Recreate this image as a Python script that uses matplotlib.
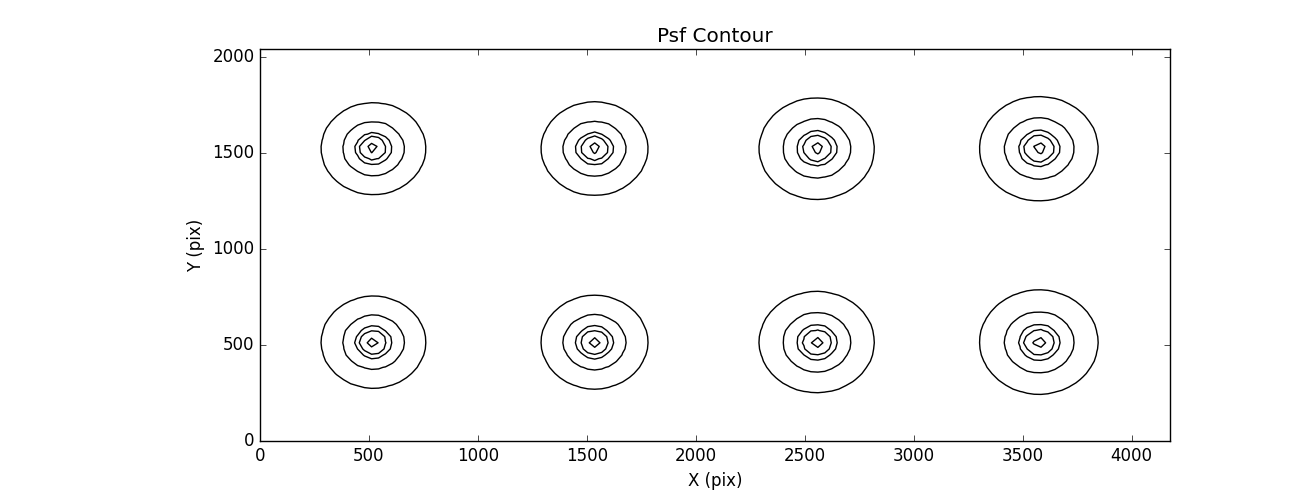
import numpy as np
import matplotlib
matplotlib.use('Agg')
import matplotlib.pyplot as plt

plt.style.use('classic')

# PSF star positions on the detector (pix)
star_x = [520, 1535, 2555, 3575]
star_y = [1525, 515]
# Moffat core width per column (pix) and slope
core_width = [30, 30.5, 33, 34]
moffat_beta = 2.0
# contour levels, relative to peak
levels = [2.45e-4, 2e-3, 0.015, 0.047, 0.4]

# detector size and sampling step (pix)
det_w, det_h = 4176, 2044
step = 32

xs = np.arange(0, det_w, step)
ys = np.arange(0, det_h, step)
X, Y = np.meshgrid(xs, ys)
Z = np.zeros_like(X, dtype=float)
for cx, a in zip(star_x, core_width):
    for cy in star_y:
        r2 = (X - cx) ** 2 + (Y - cy) ** 2
        Z += (1 + r2 / a ** 2) ** (-moffat_beta)

fig = plt.figure(figsize=(13, 4.9), facecolor='white')
fig.subplots_adjust(left=0.2, right=0.9, bottom=0.1, top=0.9)
ax = fig.add_subplot(111)
ax.contour(X, Y, Z, levels=levels, colors='k', linewidths=1.0)

ax.set_xlim(0, det_w)
ax.set_ylim(0, det_h)
ax.set_xticks(range(0, 4001, 500))
ax.set_yticks(range(0, 2001, 500))
ax.set_title('Psf Contour')
ax.set_xlabel('X (pix)')
ax.set_ylabel('Y (pix)')

plt.savefig('out.png', dpi=100, facecolor='white')
